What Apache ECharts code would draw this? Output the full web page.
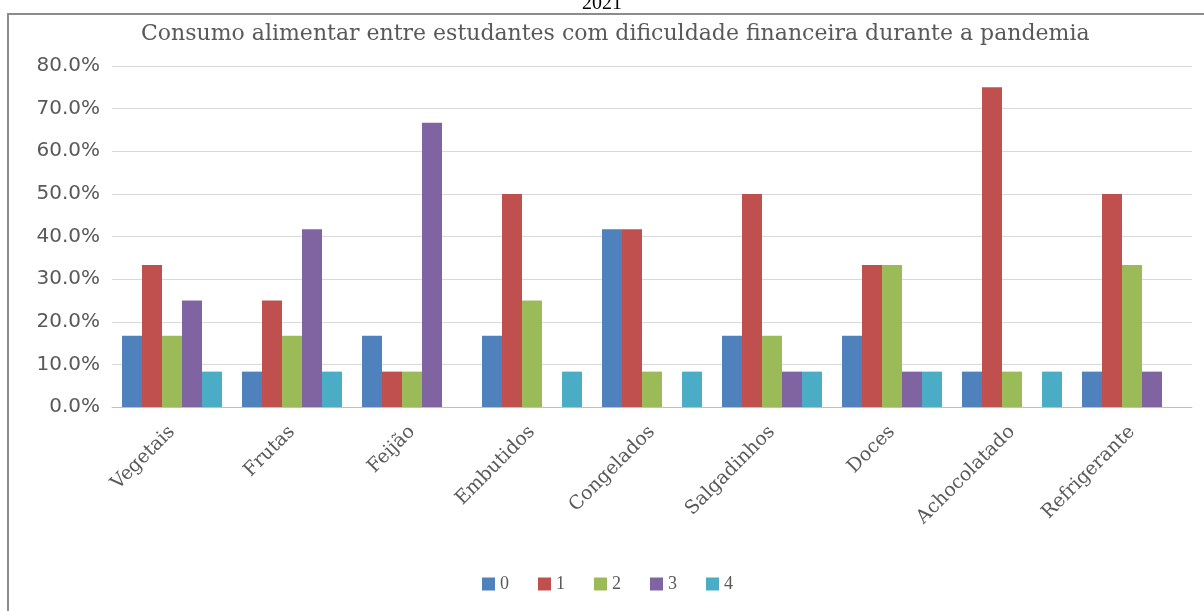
<!DOCTYPE html>
<html>
<head>
<meta charset="utf-8">
<script src="https://cdn.jsdelivr.net/npm/echarts@6/dist/echarts.min.js"></script>
<style>
  html, body { margin: 0; padding: 0; background: #fff; }
  #chart { width: 1204px; height: 611px; }
</style>
</head>
<body>
<div id="chart"></div>
<script>
// categorias (alimentos)
var categories = ['Vegetais', 'Frutas', 'Feijão', 'Embutidos', 'Congelados', 'Salgadinhos', 'Doces', 'Achocolatado', 'Refrigerante']
var seriesNames = ['0', '1', '2', '3', '4']
// valores em %
var s0 = [16.7, 8.3, 16.7, 16.7, 41.7, 16.7, 16.7, 8.3, 8.3]
var s1 = [33.3, 25.0, 8.3, 50.0, 41.7, 50.0, 33.3, 75.0, 50.0]
var s2 = [16.7, 16.7, 8.3, 25.0, 8.3, 16.7, 33.3, 8.3, 33.3]
var s3 = [25.0, 41.7, 66.7, 0, 0, 8.3, 8.3, 0, 8.3]
var s4 = [8.3, 8.3, 0, 8.3, 8.3, 8.3, 8.3, 8.3, 0]
var colors = ['#4F81BD', '#C0504D', '#9BBB59', '#8064A2', '#4BACC6']

var seriesData = [s0, s1, s2, s3, s4]
var myChart = echarts.init(document.getElementById('chart'))

var option = {
  animation: false,
  color: colors,
  title: [{
    text: '2021',
    left: 'center',
    top: -11,
    textStyle: { fontFamily: 'Liberation Serif', fontSize: 20, fontWeight: 'normal', color: '#000' }
  }, {
    text: 'Consumo alimentar entre estudantes com dificuldade financeira durante a pandemia',
    left: 136,
    top: 18,
    textStyle: { fontFamily: 'DejaVu Serif', fontSize: 22, fontWeight: 'normal', color: '#595959' }
  }],
  graphic: [{
    type: 'rect',
    shape: { x: 8, y: 14, width: 1300, height: 700 },
    style: { fill: 'none', stroke: '#8c8c8c', lineWidth: 2 },
    silent: true
  }],
  legend: {
    data: seriesNames,
    left: 477,
    top: 570,
    itemWidth: 13,
    itemHeight: 13,
    itemGap: 29,
    icon: 'rect',
    textStyle: { fontFamily: 'Liberation Serif', fontSize: 18, color: '#595959' }
  },
  grid: {
    left: 112,
    right: 12,
    top: 66,
    bottom: 204
  },
  xAxis: {
    type: 'category',
    data: categories,
    axisTick: { show: false },
    axisLine: { show: true, lineStyle: { color: '#bfbfbf', width: 1 } },
    axisLabel: {
      interval: 0,
      rotate: 45,
      margin: 22,
      fontFamily: 'DejaVu Serif',
      fontSize: 19,
      color: '#595959'
    }
  },
  yAxis: {
    type: 'value',
    min: 0,
    max: 80,
    interval: 10,
    axisLine: { show: false },
    axisTick: { show: false },
    splitLine: { show: true, lineStyle: { color: '#d9d9d9', width: 1 } },
    axisLabel: {
      margin: 12,
      fontFamily: 'DejaVu Sans',
      fontSize: 20,
      color: '#595959',
      formatter: function (v) { return v.toFixed(1) + '%' }
    }
  },
  series: seriesNames.map(function (name, i) {
    return {
      name: name,
      type: 'bar',
      data: seriesData[i],
      barGap: '0%',
      barCategoryGap: '16.67%'
    }
  })
}
myChart.setOption(option)
</script>
</body>
</html>
